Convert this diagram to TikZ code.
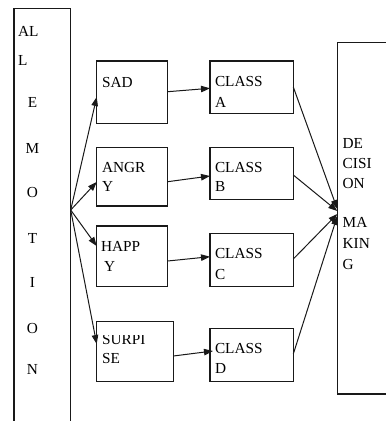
\documentclass[tikz,border=0pt]{standalone}
\usepackage{fontspec}
\setmainfont{Liberation Serif}
\usetikzlibrary{arrows.meta}
\tikzset{
  box/.style={draw=black!90, line width=1.2pt, inner sep=0pt, outer sep=0pt, anchor=north west},
  txt/.style={anchor=base west, inner sep=0pt, outer sep=0pt, font=\fontsize{15.3}{20.7}\selectfont},
  ctxt/.style={anchor=base, inner sep=0pt, outer sep=0pt, font=\fontsize{15.3}{20.7}\selectfont},
  arr/.style={draw=black!90, line width=1pt, -{Triangle[length=9pt,width=6.5pt]}}
}
\begin{document}
\begin{tikzpicture}[x=1pt,y=-1pt]
\useasboundingbox (0,0) rectangle (386,421);
% boxes
\node[box, minimum width=56.7pt, minimum height=430pt] (all) at (14,8.3) {};
\node[box, minimum width=71pt, minimum height=62.3pt] (sad) at (96.7,61) {};
\node[box, minimum width=83.3pt, minimum height=52.3pt] (ca) at (210,61) {};
\node[box, minimum width=71pt, minimum height=58.3pt] (ang) at (96.7,147.7) {};
\node[box, minimum width=83.3pt, minimum height=51.6pt] (cb) at (210,147.7) {};
\node[box, minimum width=71pt, minimum height=60.7pt] (hap) at (96.7,226) {};
\node[box, minimum width=83.3pt, minimum height=53.4pt] (cc) at (210,233.3) {};
\node[box, minimum width=76.6pt, minimum height=59.7pt] (sur) at (96.7,321.7) {};
\node[box, minimum width=83.3pt, minimum height=53.4pt] (cd) at (210,328.3) {};
\node[box, minimum width=80pt, minimum height=351.7pt] (dec) at (337.3,42.3) {};
% left column text
\node[txt] (t1) at (18,36.7) {AL};
\node[txt] (t2) at (18,65) {L};
\node[ctxt] (t3) at (32.5,107) {E};
\node[ctxt] (t4) at (32.5,153) {M};
\node[ctxt] (t5) at (32.5,197) {O};
\node[ctxt] (t6) at (32.5,243) {T};
\node[ctxt] (t7) at (32.5,287) {I};
\node[ctxt] (t8) at (32.5,333) {O};
\node[ctxt] (t9) at (32.5,374) {N};
% box texts
\node[txt] (s1) at (102,87) {SAD};
\node[txt] (a1) at (215,86.7) {CLASS};
\node[txt] (a2) at (215,107.3) {A};
\node[txt] (g1) at (102,172.3) {ANGR};
\node[txt] (g2) at (102,191.7) {Y};
\node[txt] (b1) at (215,172.3) {CLASS};
\node[txt] (b2) at (215,191.7) {B};
\node[txt] (h1) at (101,251) {HAPP};
\node[txt] (h2) at (104,271) {Y};
\node[txt] (c1) at (215,258) {CLASS};
\node[txt] (c2) at (215,279) {C};
\begin{scope}
\clip (97,335) rectangle (173,380);
\node[txt] (u1) at (102,344) {SURPI};
\end{scope}
\node[txt] (u2) at (102,363) {SE};
\node[txt] (d1) at (215,353) {CLASS};
\node[txt] (d2) at (215,373) {D};
\node[txt] (m1) at (342.7,148) {DE};
\node[txt] (m2) at (342.7,168) {CISI};
\node[txt] (m3) at (342.7,188) {ON};
\node[txt] (m4) at (342.7,227) {MA};
\node[txt] (m5) at (342.7,248) {KIN};
\node[txt] (m6) at (342.7,269) {G};
% fan
\coordinate (fan) at (70.7,210);
\draw[arr] (fan) -- (sad.west |- 0,97);
\draw[arr] (fan) -- (ang.west |- 0,182);
\draw[arr] (fan) -- (hap.west |- 0,246);
\draw[arr] (fan) -- (sur.west |- 0,344);
% to classes
\draw[arr] (sad.east |- 0,91.7) -- (ca.west |- 0,88.3);
\draw[arr] (ang.east |- 0,181.7) -- (cb.west |- 0,176);
\draw[arr] (hap.east |- 0,261) -- (cc.west |- 0,256.7);
\draw[arr] (sur.east |- 0,356) -- ([xshift=3pt]cd.west |- 0,351);
% to decision
\draw[arr] (ca.east |- 0,87) -- (dec.west |- 0,209);
\draw[arr] (cb.east |- 0,175) -- (dec.west |- 0,211);
\draw[arr] (cc.east |- 0,259) -- (dec.west |- 0,214);
\draw[arr] (cd.east |- 0,354) -- (dec.west |- 0,216);
\end{tikzpicture}
\end{document}
